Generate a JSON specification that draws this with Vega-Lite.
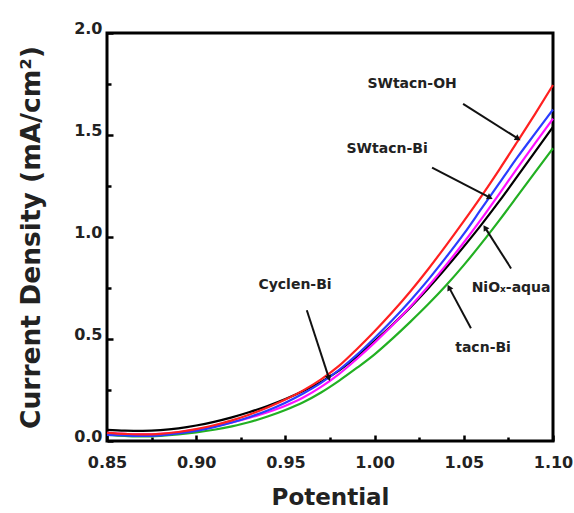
{
  "$schema": "https://vega.github.io/schema/vega-lite/v6.json",
  "width": 446,
  "height": 408,
  "autosize": {"type": "none"},
  "padding": {"left": 107, "top": 33, "right": 21, "bottom": 72},
  "background": "white",
  "config": {
    "view": {"stroke": "black", "strokeWidth": 3},
    "font": "DejaVu Sans",
    "axis": {"grid": false, "domain": false, "tickColor": "black", "labelColor": "#222", "titleColor": "#222", "labelFlush": false, "labelOverlap": false}
  },
  "datasets": {
    "curves": [
      {"s": "tacn-Bi", "V": 0.85, "j": 0.03}, {"s": "tacn-Bi", "V": 0.86, "j": 0.025}, {"s": "tacn-Bi", "V": 0.87, "j": 0.022}, {"s": "tacn-Bi", "V": 0.88, "j": 0.025}, {"s": "tacn-Bi", "V": 0.89, "j": 0.032}, {"s": "tacn-Bi", "V": 0.90, "j": 0.042}, {"s": "tacn-Bi", "V": 0.91, "j": 0.055}, {"s": "tacn-Bi", "V": 0.92, "j": 0.072}, {"s": "tacn-Bi", "V": 0.93, "j": 0.093}, {"s": "tacn-Bi", "V": 0.94, "j": 0.12}, {"s": "tacn-Bi", "V": 0.95, "j": 0.152}, {"s": "tacn-Bi", "V": 0.96, "j": 0.19}, {"s": "tacn-Bi", "V": 0.97, "j": 0.238}, {"s": "tacn-Bi", "V": 0.98, "j": 0.295}, {"s": "tacn-Bi", "V": 0.99, "j": 0.358}, {"s": "tacn-Bi", "V": 1.00, "j": 0.425}, {"s": "tacn-Bi", "V": 1.01, "j": 0.502}, {"s": "tacn-Bi", "V": 1.02, "j": 0.584}, {"s": "tacn-Bi", "V": 1.03, "j": 0.67}, {"s": "tacn-Bi", "V": 1.04, "j": 0.762}, {"s": "tacn-Bi", "V": 1.05, "j": 0.862}, {"s": "tacn-Bi", "V": 1.06, "j": 0.97}, {"s": "tacn-Bi", "V": 1.07, "j": 1.083}, {"s": "tacn-Bi", "V": 1.08, "j": 1.20}, {"s": "tacn-Bi", "V": 1.09, "j": 1.318}, {"s": "tacn-Bi", "V": 1.10, "j": 1.435},
      {"s": "NiOx-aqua", "V": 0.85, "j": 0.055}, {"s": "NiOx-aqua", "V": 0.86, "j": 0.051}, {"s": "NiOx-aqua", "V": 0.87, "j": 0.05}, {"s": "NiOx-aqua", "V": 0.88, "j": 0.053}, {"s": "NiOx-aqua", "V": 0.89, "j": 0.062}, {"s": "NiOx-aqua", "V": 0.90, "j": 0.076}, {"s": "NiOx-aqua", "V": 0.91, "j": 0.094}, {"s": "NiOx-aqua", "V": 0.92, "j": 0.116}, {"s": "NiOx-aqua", "V": 0.93, "j": 0.142}, {"s": "NiOx-aqua", "V": 0.94, "j": 0.172}, {"s": "NiOx-aqua", "V": 0.95, "j": 0.206}, {"s": "NiOx-aqua", "V": 0.96, "j": 0.245}, {"s": "NiOx-aqua", "V": 0.97, "j": 0.29}, {"s": "NiOx-aqua", "V": 0.98, "j": 0.345}, {"s": "NiOx-aqua", "V": 0.99, "j": 0.413}, {"s": "NiOx-aqua", "V": 1.00, "j": 0.49}, {"s": "NiOx-aqua", "V": 1.01, "j": 0.57}, {"s": "NiOx-aqua", "V": 1.02, "j": 0.655}, {"s": "NiOx-aqua", "V": 1.03, "j": 0.748}, {"s": "NiOx-aqua", "V": 1.04, "j": 0.848}, {"s": "NiOx-aqua", "V": 1.05, "j": 0.953}, {"s": "NiOx-aqua", "V": 1.06, "j": 1.062}, {"s": "NiOx-aqua", "V": 1.07, "j": 1.177}, {"s": "NiOx-aqua", "V": 1.08, "j": 1.297}, {"s": "NiOx-aqua", "V": 1.09, "j": 1.418}, {"s": "NiOx-aqua", "V": 1.10, "j": 1.54},
      {"s": "Cyclen-Bi", "V": 0.85, "j": 0.04}, {"s": "Cyclen-Bi", "V": 0.86, "j": 0.035}, {"s": "Cyclen-Bi", "V": 0.87, "j": 0.032}, {"s": "Cyclen-Bi", "V": 0.88, "j": 0.035}, {"s": "Cyclen-Bi", "V": 0.89, "j": 0.043}, {"s": "Cyclen-Bi", "V": 0.90, "j": 0.056}, {"s": "Cyclen-Bi", "V": 0.91, "j": 0.072}, {"s": "Cyclen-Bi", "V": 0.92, "j": 0.091}, {"s": "Cyclen-Bi", "V": 0.93, "j": 0.114}, {"s": "Cyclen-Bi", "V": 0.94, "j": 0.141}, {"s": "Cyclen-Bi", "V": 0.95, "j": 0.173}, {"s": "Cyclen-Bi", "V": 0.96, "j": 0.213}, {"s": "Cyclen-Bi", "V": 0.97, "j": 0.265}, {"s": "Cyclen-Bi", "V": 0.98, "j": 0.328}, {"s": "Cyclen-Bi", "V": 0.99, "j": 0.402}, {"s": "Cyclen-Bi", "V": 1.00, "j": 0.482}, {"s": "Cyclen-Bi", "V": 1.01, "j": 0.567}, {"s": "Cyclen-Bi", "V": 1.02, "j": 0.658}, {"s": "Cyclen-Bi", "V": 1.03, "j": 0.757}, {"s": "Cyclen-Bi", "V": 1.04, "j": 0.862}, {"s": "Cyclen-Bi", "V": 1.05, "j": 0.973}, {"s": "Cyclen-Bi", "V": 1.06, "j": 1.09}, {"s": "Cyclen-Bi", "V": 1.07, "j": 1.213}, {"s": "Cyclen-Bi", "V": 1.08, "j": 1.338}, {"s": "Cyclen-Bi", "V": 1.09, "j": 1.46}, {"s": "Cyclen-Bi", "V": 1.10, "j": 1.58},
      {"s": "SWtacn-Bi", "V": 0.85, "j": 0.03}, {"s": "SWtacn-Bi", "V": 0.86, "j": 0.027}, {"s": "SWtacn-Bi", "V": 0.87, "j": 0.025}, {"s": "SWtacn-Bi", "V": 0.88, "j": 0.028}, {"s": "SWtacn-Bi", "V": 0.89, "j": 0.037}, {"s": "SWtacn-Bi", "V": 0.90, "j": 0.05}, {"s": "SWtacn-Bi", "V": 0.91, "j": 0.068}, {"s": "SWtacn-Bi", "V": 0.92, "j": 0.091}, {"s": "SWtacn-Bi", "V": 0.93, "j": 0.118}, {"s": "SWtacn-Bi", "V": 0.94, "j": 0.15}, {"s": "SWtacn-Bi", "V": 0.95, "j": 0.188}, {"s": "SWtacn-Bi", "V": 0.96, "j": 0.233}, {"s": "SWtacn-Bi", "V": 0.97, "j": 0.285}, {"s": "SWtacn-Bi", "V": 0.98, "j": 0.348}, {"s": "SWtacn-Bi", "V": 0.99, "j": 0.422}, {"s": "SWtacn-Bi", "V": 1.00, "j": 0.505}, {"s": "SWtacn-Bi", "V": 1.01, "j": 0.593}, {"s": "SWtacn-Bi", "V": 1.02, "j": 0.688}, {"s": "SWtacn-Bi", "V": 1.03, "j": 0.79}, {"s": "SWtacn-Bi", "V": 1.04, "j": 0.9}, {"s": "SWtacn-Bi", "V": 1.05, "j": 1.015}, {"s": "SWtacn-Bi", "V": 1.06, "j": 1.14}, {"s": "SWtacn-Bi", "V": 1.07, "j": 1.265}, {"s": "SWtacn-Bi", "V": 1.08, "j": 1.39}, {"s": "SWtacn-Bi", "V": 1.09, "j": 1.508}, {"s": "SWtacn-Bi", "V": 1.10, "j": 1.625},
      {"s": "SWtacn-OH", "V": 0.85, "j": 0.04}, {"s": "SWtacn-OH", "V": 0.86, "j": 0.035}, {"s": "SWtacn-OH", "V": 0.87, "j": 0.032}, {"s": "SWtacn-OH", "V": 0.88, "j": 0.035}, {"s": "SWtacn-OH", "V": 0.89, "j": 0.044}, {"s": "SWtacn-OH", "V": 0.90, "j": 0.058}, {"s": "SWtacn-OH", "V": 0.91, "j": 0.077}, {"s": "SWtacn-OH", "V": 0.92, "j": 0.101}, {"s": "SWtacn-OH", "V": 0.93, "j": 0.13}, {"s": "SWtacn-OH", "V": 0.94, "j": 0.164}, {"s": "SWtacn-OH", "V": 0.95, "j": 0.203}, {"s": "SWtacn-OH", "V": 0.96, "j": 0.248}, {"s": "SWtacn-OH", "V": 0.97, "j": 0.302}, {"s": "SWtacn-OH", "V": 0.98, "j": 0.368}, {"s": "SWtacn-OH", "V": 0.99, "j": 0.45}, {"s": "SWtacn-OH", "V": 1.00, "j": 0.538}, {"s": "SWtacn-OH", "V": 1.01, "j": 0.632}, {"s": "SWtacn-OH", "V": 1.02, "j": 0.733}, {"s": "SWtacn-OH", "V": 1.03, "j": 0.842}, {"s": "SWtacn-OH", "V": 1.04, "j": 0.958}, {"s": "SWtacn-OH", "V": 1.05, "j": 1.078}, {"s": "SWtacn-OH", "V": 1.06, "j": 1.202}, {"s": "SWtacn-OH", "V": 1.07, "j": 1.332}, {"s": "SWtacn-OH", "V": 1.08, "j": 1.467}, {"s": "SWtacn-OH", "V": 1.09, "j": 1.604}, {"s": "SWtacn-OH", "V": 1.10, "j": 1.745}
    ],
    "notes": [
      {"label": "SWtacn-OH", "tx": 1.021, "ty": 1.751, "x1": 1.0496, "y1": 1.653, "x2": 1.0804, "y2": 1.482, "ang": 122},
      {"label": "SWtacn-Bi", "tx": 1.007, "ty": 1.433, "x1": 1.0322, "y1": 1.340, "x2": 1.0647, "y2": 1.193, "ang": 117},
      {"label": "NiOₓ-aqua", "tx": 1.0765, "ty": 0.748, "x1": 1.0765, "y1": 0.846, "x2": 1.0619, "y2": 1.046, "ang": 328},
      {"label": "tacn-Bi", "tx": 1.0608, "ty": 0.455, "x1": 1.054, "y1": 0.553, "x2": 1.0417, "y2": 0.753, "ang": 332},
      {"label": "Cyclen-Bi", "tx": 0.9554, "ty": 0.763, "x1": 0.962, "y1": 0.641, "x2": 0.9744, "y2": 0.308, "ang": 162}
    ]
  },
  "resolve": {"axis": {"x": "independent", "y": "independent"}},
  "layer": [
    {
      "data": {"name": "curves"},
      "mark": {"type": "line", "strokeWidth": 2.2, "interpolate": "monotone"},
      "encoding": {
        "x": {"field": "V", "type": "quantitative", "scale": {"domain": [0.85, 1.10], "nice": false, "zero": false},
          "axis": {"orient": "bottom", "values": [0.85, 0.9, 0.95, 1.0, 1.05, 1.1], "format": ".2f", "tickSize": -6, "tickWidth": 2.5, "labelPadding": 19, "labelFontWeight": "bold", "labelFontSize": 16, "title": "Potential", "titleFontWeight": "bold", "titleFontSize": 23, "titlePadding": 16}},
        "y": {"field": "j", "type": "quantitative", "scale": {"domain": [0, 2.0], "nice": false},
          "axis": {"orient": "left", "values": [0, 0.5, 1.0, 1.5, 2.0], "format": ".1f", "tickSize": -6, "tickWidth": 2.5, "labelPadding": 11, "labelOffset": -5, "labelFontWeight": "bold", "labelFontSize": 16, "title": "Current Density (mA/cm²)", "titleFontWeight": "bold", "titleFontSize": 26.5, "titlePadding": 28}},
        "color": {"field": "s", "type": "nominal", "legend": null,
          "scale": {"domain": ["tacn-Bi", "NiOx-aqua", "Cyclen-Bi", "SWtacn-Bi", "SWtacn-OH"], "range": ["#22b022", "#000000", "#ff10ff", "#2a3cff", "#ff2020"]}},
        "order": {"field": "s", "sort": "ascending"}
      }
    },
    {
      "data": {"name": "notes"},
      "mark": {"type": "rule", "strokeWidth": 2, "color": "#111"},
      "encoding": {
        "x": {"field": "x1", "type": "quantitative", "axis": {"orient": "bottom", "values": [0.875, 0.925, 0.975, 1.025, 1.075], "labels": false, "tickSize": -4, "tickWidth": 2.5, "title": null, "domain": false}},
        "y": {"field": "y1", "type": "quantitative", "axis": {"orient": "left", "values": [0.25, 0.75, 1.25, 1.75], "labels": false, "tickSize": -4, "tickWidth": 2.5, "title": null, "domain": false}},
        "x2": {"field": "x2"},
        "y2": {"field": "y2"}
      }
    },
    {
      "data": {"name": "notes"},
      "mark": {"type": "point", "shape": "triangle-up", "filled": true, "color": "#111", "opacity": 1, "size": 45},
      "encoding": {
        "x": {"field": "x2", "type": "quantitative", "axis": null},
        "y": {"field": "y2", "type": "quantitative", "axis": null},
        "angle": {"field": "ang", "type": "quantitative", "scale": null}
      }
    },
    {
      "data": {"name": "notes"},
      "mark": {"type": "text", "fontWeight": "bold", "fontSize": 14, "color": "#222", "align": "center", "baseline": "middle"},
      "encoding": {
        "x": {"field": "tx", "type": "quantitative", "axis": null},
        "y": {"field": "ty", "type": "quantitative", "axis": null},
        "text": {"field": "label"}
      }
    }
  ]
}
